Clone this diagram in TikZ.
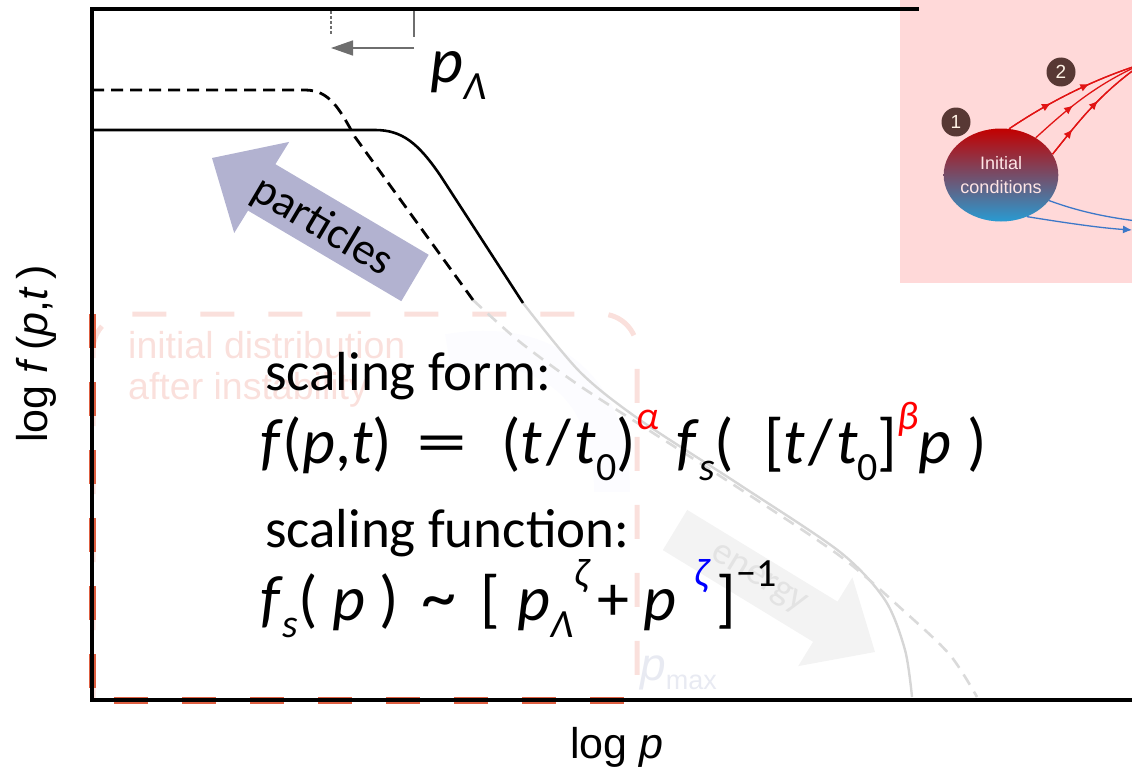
\documentclass[tikz,border=0pt]{standalone}
\usepackage{fontspec}
\setmainfont{Carlito}
\newfontfamily\arialfont{Liberation Sans}
\usetikzlibrary{shapes.geometric,decorations.markings,arrows.meta}

\definecolor{partblue}{RGB}{178,178,208}
\definecolor{boxpink}{RGB}{255,217,217}
\definecolor{fadered}{RGB}{250,224,220}
\definecolor{edgered}{RGB}{222,95,65}
\definecolor{fadegray}{RGB}{243,243,243}
\definecolor{curvegray}{RGB}{214,214,214}
\definecolor{markgray}{RGB}{110,110,110}
\definecolor{badgebrown}{RGB}{88,56,52}
\definecolor{initred}{RGB}{195,0,0}
\definecolor{initmid}{RGB}{165,35,65}
\definecolor{initblue}{RGB}{40,155,210}
\definecolor{flowred}{RGB}{225,20,20}
\definecolor{flowblue}{RGB}{60,120,200}
\definecolor{zetablue}{RGB}{0,0,255}
\definecolor{pmaxgray}{RGB}{232,234,242}

\newcommand{\lowr}[1]{\raisebox{-0.28em}{\fontsize{40}{40}\selectfont #1}}
\newcommand{\highr}[1]{\raisebox{0.52em}{\fontsize{40}{40}\selectfont #1}}
\newcommand{\formfont}{\fontsize{64}{70}\selectfont}
\newcommand{\headfont}{\fontsize{55}{60}\selectfont}

\tikzset{
  axisline/.style={line width=4.5pt, line cap=rect},
  blackcurve/.style={line width=2.6pt},
  blackdash/.style={line width=2.8pt, dash pattern=on 12pt off 7pt},
  fadecurve/.style={line width=2.4pt, color=curvegray},
  fadedash/.style={line width=2.6pt, color=curvegray!90, dash pattern=on 12pt off 8pt},
  redbox/.style={line width=5pt, color=fadered, dash pattern=on 34pt off 34pt},
  formula/.style={anchor=base west, inner sep=0pt, font=\formfont},
  heading/.style={anchor=base west, inner sep=0pt, font=\headfont},
  badge/.style={circle, fill=badgebrown, text=white!90!orange, inner sep=0pt,
    minimum size=29pt, font=\arialfont\fontsize{19}{19}\selectfont},
  flowline/.style={line width=1.3pt, color=flowred, postaction={decorate}},
  midarrow/.style={decoration={markings, mark=at position #1 with
    {\arrow{Latex[length=9pt, width=8pt]}}}},
}

\begin{document}
\begin{tikzpicture}[x=1pt, y=-1pt]
\useasboundingbox (0,0) rectangle (1132,776);

% inset from the flow picture
\fill[boxpink] (900,0) rectangle (1132,283);
\begin{scope}
\clip (900,0) rectangle (1132,283);
\node[ellipse, minimum width=111pt, minimum height=93pt, inner sep=0pt,
  top color=initred, middle color=initmid, bottom color=initblue,
  text=white!90!red, align=center,
  font=\arialfont\fontsize{18}{24}\selectfont] (init) at (1001,175) {Initial\\conditions};
\coordinate (redend) at (1142,64);
\coordinate (blueend) at (1145,222);
\coordinate (blueend2) at (1132,230);
\draw[flowline, midarrow=0.33] (init.80) .. controls (1040,108) and (1085,82) .. (redend);
\draw[flowline, midarrow=0.62] (init.80) .. controls (1040,108) and (1085,82) .. (redend);
\draw[flowline, midarrow=0.38] (init.47) .. controls (1062,114) and (1092,86) .. (redend);
\draw[flowline, midarrow=0.25] (init.22) .. controls (1074,128) and (1096,96) .. (redend);
\draw[flowline, midarrow=0.55] (init.22) .. controls (1074,128) and (1096,96) .. (redend);
\draw[line width=1.3pt, color=flowblue] (init.-28) .. controls (1080,212) and (1110,218) .. (blueend);
\draw[line width=1.3pt, color=flowblue, -{Latex[length=9pt, width=8pt]}] (init.-58) .. controls (1060,222) and (1100,228) .. (blueend2);
\node[badge] (one) at (956,122) {1};
\node[badge] (two) at (1061,72) {2};
\end{scope}

% faded overlay: initial distribution
\draw[redbox, rounded corners=36pt] (93,698) -- (93,314) -- (637,314) -- (637,698);
\draw[line width=7pt, color=edgered, dash pattern=on 34pt off 34pt] (92,314) -- (92,700) -- (640,700);
\node[anchor=base west, inner sep=0pt, align=left, color=fadered,
  font=\arialfont\fontsize{37.5}{41}\selectfont] (initdist) at (128,399)
  {initial distribution\\after instability};

% faded arrows
\draw[line width=36pt, color=fadegray!70!blue!4] (448,352) .. controls (545,335) and (612,385) .. (612,492);
\fill[fadegray] (687.2,509.9) -- (837.5,601.6) -- (852.4,577.3) -- (875,652)
  -- (798.2,666.1) -- (813.1,641.8) -- (662.8,550.1) -- cycle;
\node[rotate=-31.4, color=black!11, font=\fontsize{38}{38}\selectfont] (energy) at (758,580) {energy};
\node[anchor=base west, inner sep=0pt, color=pmaxgray,
  font=\arialfont\fontsize{46}{46}\selectfont] (pmax) at (640,680)
  {\textit{p}\raisebox{-0.2em}{\fontsize{27}{27}\selectfont max}};

% particles arrow
\fill[partblue] (428.7,254.8) -- (275.4,164.2) -- (289.2,141.9) -- (212,158)
  -- (234.2,233.0) -- (248,210.6) -- (401.3,301.2) -- cycle;
\node[rotate=-30.6, font=\fontsize{45}{45}\selectfont] (particles) at (322,227) {particles};

% curves fading out
\draw[fadecurve] plot[smooth] coordinates {(523,303) (580,372) (640,420)
  (740,485) (840,552) (885,600) (905,650) (912,697)};
\draw[fadedash] plot[smooth] coordinates {(473,300) (520,342) (580,386) (650,431)
  (740,489) (840,556) (905,612) (950,655) (977,697)};

% distributions
\draw[blackdash] (92,90) -- (305,90) .. controls (330,90) and (340,110) .. (355,137) -- (473,300);
\draw[blackcurve] (92,130) -- (375,130) .. controls (402,130) and (418,143) .. (440,175) -- (523,303);

% axes
\draw[axisline] (917,9) -- (92,9) -- (92,700) -- (1132,700);
\node[rotate=90, font=\arialfont\fontsize{43}{43}\selectfont] (ylab) at (36,354)
  {log \textit{f}\,(\textit{p},\textit{t}\,)};
\node[anchor=base, font=\arialfont\fontsize{43}{43}\selectfont] (xlab) at (617,758)
  {log \textit{p}};

% cutoff marker
\coordinate (lamtick) at (414,48);
\coordinate (lamold) at (331,48);
\draw[markgray, line width=1.5pt] (414,11) -- (414,37);
\draw[markgray, line width=1.5pt, dash pattern=on 3pt off 2pt] (331,11) -- (331,35);
\draw[markgray, line width=1.5pt, -{Triangle[length=22pt, width=15pt]}] (lamtick) -- (lamold);
\node[formula] (plam) at (430,82) {\textit{p}\lowr{\textit{Λ}}};

% scaling text
\node[heading] (formhead) at (265,390) {scaling form:};
\node[formula] (formline) at (260,463)
  {\textit{f}(\textit{p},\textit{t})\hspace{24pt}\scalebox{1.6}[1]{=}\hspace{34pt}(\textit{t}\kern4pt/\kern4pt\textit{t}\lowr{0})\highr{\color{red}\textit{α}}\hspace{18pt}%
   \textit{f}\lowr{\textit{s}}(\hspace{30pt}[\textit{t}\kern3pt/\kern3pt\textit{t}\lowr{0}]\highr{\color{red}\textit{β}}\textit{p}\hspace{16pt})};
\node[heading] (funchead) at (265,547) {scaling function:};
\node[formula] (funcline) at (260,620)
  {\textit{f}\lowr{\textit{s}}( \textit{p} )\hspace{22pt}\scalebox{1.1}{\textasciitilde}\hspace{24pt}[\hspace{18pt}\textit{p}\lowr{\textit{Λ}}\kern0.02em\highr{\textit{ζ}}\hspace{6pt}+\hspace{14pt}\textit{p}\hspace{18pt}\highr{\color{zetablue}\textit{ζ}}\hspace{6pt}]\highr{−1}};
\end{tikzpicture}
\end{document}
